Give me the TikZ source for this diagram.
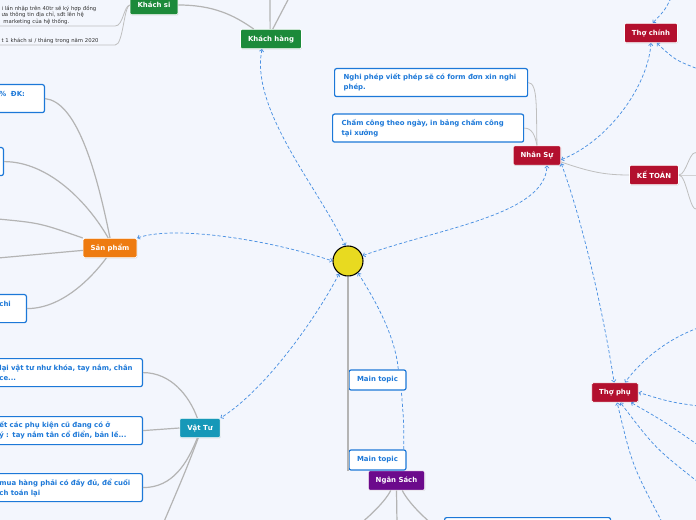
\documentclass[tikz,border=0pt]{standalone}
\usepackage{fontspec}
\newfontfamily\mapfont{DejaVu Sans}
\usetikzlibrary{arrows.meta,shadows}
\definecolor{bgblue}{RGB}{243,246,253}
\definecolor{hanggreen}{RGB}{28,138,58}
\definecolor{sporange}{RGB}{238,123,16}
\definecolor{vtteal}{RGB}{22,152,184}
\definecolor{nsred}{RGB}{179,16,46}
\definecolor{nspurple}{RGB}{108,10,140}
\definecolor{leafblue}{RGB}{28,120,216}
\definecolor{linkblue}{RGB}{74,144,226}
\definecolor{branchgray}{RGB}{180,180,180}
\definecolor{notegray}{RGB}{50,50,50}
\definecolor{sunyellow}{RGB}{232,218,32}
\tikzset{
  catbox/.style={rectangle, rounded corners=1pt, fill=#1, draw=white, line width=0.5pt,
    text=white, font=\mapfont\bfseries\fontsize{5.2}{6}\selectfont, inner xsep=5.6pt,
    minimum height=14.5pt, drop shadow={opacity=0.25,shadow xshift=0.4pt,shadow yshift=-0.6pt}},
  leafbox/.style={rectangle, rounded corners=1.5pt, fill=white, draw=leafblue, line width=0.9pt,
    text=leafblue, font=\mapfont\bfseries\fontsize{5.2}{7.5}\selectfont, align=left,
    text width=#1, inner xsep=6.75pt, minimum height=21pt},
  topicbox/.style={rectangle, rounded corners=1.5pt, fill=white, draw=leafblue, line width=0.9pt,
    text=leafblue, font=\mapfont\bfseries\fontsize{5.2}{6}\selectfont,
    minimum width=42.75pt, minimum height=15pt},
  note/.style={text=notegray, font=\mapfont\fontsize{4}{4.9}\selectfont, align=left,
    text width=#1, inner sep=1pt, anchor=south west},
  branch/.style={draw=branchgray, line width=0.9pt},
  twig/.style={draw=branchgray!85, line width=0.6pt},
  link/.style={draw=linkblue, line width=0.55pt, dash pattern=on 2.4pt off 1.6pt,
    >={Straight Barb[length=1.6pt,width=3.2pt]}},
}
\begin{document}
\begin{tikzpicture}[x=0.75pt,y=-0.75pt]
\fill[bgblue] (0,0) rectangle (696,520);
\useasboundingbox (0,0) rectangle (696,520);
\clip (0,0) rectangle (696,520);
% Ends outside the page
\coordinate (kh1) at (270,-4);
\coordinate (kh2) at (290,-4);
\coordinate (sp3) at (-2,219);
\coordinate (sp4) at (-2,258);
\coordinate (vt4) at (163,524);
\coordinate (ns1) at (360,524);
\coordinate (ns2) at (397,524);
\coordinate (ns3) at (432,524);
\coordinate (kt1) at (698,154);
\coordinate (kt2) at (698,175);
\coordinate (kt3) at (698,208);
\coordinate (tc1) at (671,-2);
\coordinate (tc2) at (698,69);
\coordinate (tp1) at (698,328);
\coordinate (tp2) at (698,406);
\coordinate (tp3) at (698,445);
\coordinate (tp4) at (698,482);
\coordinate (tp5) at (662,522);
% Centre
\node[circle, fill=sunyellow, draw=black, line width=0.8pt, minimum size=22.5pt, inner sep=0pt] (root) at (348,261) {};
% Main topics
\node[catbox=hanggreen] (khachhang) at (271,39) {Khách hàng};
\node[catbox=hanggreen] (khachsi) at (154,5) {Khách si};
\node[catbox=sporange] (sanpham) at (110,248) {Sản phẩm};
\node[catbox=vtteal] (vattu) at (200,428) {Vật Tư};
\node[catbox=nsred] (nhansu) at (537,155.5) {Nhân Sự};
\node[catbox=nsred] (thochinh) at (651,33) {Thợ chính};
\node[catbox=nsred] (ketoan) at (654,175) {KẾ TOÁN};
\node[catbox=nsred] (thophu) at (615,392.5) {Thợ phụ};
\node[catbox=nspurple] (ngansach) at (396.5,480.5) {Ngân Sách};
\node[topicbox] (topicA) at (377.5,380) {Main topic};
\node[topicbox] (topicB) at (377.5,460) {Main topic};
% Subtopics
\node[note=84pt] (ks1) at (0,26) {i lần nhập trên 40tr sẽ ký hợp đồng\\ưa thông tin địa chỉ, sđt lên hệ\\\ marketing của hệ thống.};
\node[note=84pt] (ks2) at (0,45) {t 1 khách si / tháng trong năm 2020};
\node[leafbox=27pt, anchor=north east] (spa) at (45,84) {\%~~ĐK:\\~};
\node[leafbox=10pt, anchor=north east] (spb) at (4,147) {~\\~};
\node[leafbox=13.5pt, anchor=north east] (spc) at (27,294) {chi\\~};
\node[leafbox=100.5pt, anchor=north east] (vt1) at (143,358) {lại vật tư như khóa, tay nắm, chân\\ce...};
\node[leafbox=100.5pt, anchor=north east] (vt2) at (143,416) {ết các phụ kiện cũ đang có ở\\ý : tay nắm tân cổ điển, bản lề...};
\node[leafbox=100.5pt, anchor=north east] (vt3) at (143,473) {mua hàng phải có đầy đủ, để cuối\\ch toán lại};
\node[leafbox=131.25pt, anchor=north west] (nghiphep) at (334,68) {Nghi phép viết phép sẽ có form đơn xin nghi\\phép.};
\node[leafbox=129.75pt, anchor=north west] (chamcong) at (332,113.5) {Chấm công theo ngày, in bảng chấm công\\tại xưởng};
\node[leafbox=111pt, anchor=north west] (nsbox) at (444,517) {~\\~};
% Branches
\draw[branch, line width=1.3pt] (root.south) -- (root.south |- topicA.west);
\draw[branch] (root.south |- topicA.west) -- (root.south |- topicB.south);
\draw[branch] (khachhang.95) -- (kh1);
\draw[branch] (khachhang.80) -- (kh2);
\draw[branch] (khachhang.150) .. controls +(-20,-14) and +(35,0) .. (khachsi.east);
\draw[twig] (ks1.south west) -- (ks1.south east) .. controls +(8,0) and +(-6,1) .. (khachsi.west);
\draw[twig] (ks2.south west) -- (ks2.south east) .. controls +(8,0) and +(-6,2) .. (khachsi.west);
\draw[branch] (spa.east) .. controls +(30,3) and +(-15,-75) .. (sanpham.north);
\draw[branch] (spb.east) .. controls +(45,0) and +(-20,-35) .. (sanpham.100);
\draw[branch] (sp3) .. controls (40,223) .. (sanpham.north west);
\draw[branch] (sp4) -- (sanpham.185);
\draw[branch] (spc.east) .. controls +(35,0) and +(-15,20) .. (sanpham.250);
\draw[branch] (vt1.east) .. controls +(28,0) and +(-8,-22) .. (vattu.105);
\draw[branch] (vt2.east) -- (vattu.west);
\draw[branch] (vt3.east) .. controls +(30,0) and +(-10,25) .. (vattu.255);
\draw[branch] (vattu.260) .. controls (186,470) .. (vt4);
\draw[twig] (nghiphep.east) .. controls +(10,0) and +(-1,-35) .. (nhansu.north);
\draw[twig] (chamcong.east) .. controls +(8,0) and +(-2,-10) .. (nhansu.north);
\draw[twig] (nhansu.-15) .. controls (590,172) and (605,175) .. (ketoan.west);
\foreach \c/\dy in {kt1/-8, kt2/0, kt3/8}
  \draw[twig] (ketoan.east) .. controls +(8,0) and +(-8,\dy) .. (\c);
\draw[branch] (ngansach.240) .. controls +(-5,10) and +(12,-10) .. (ns1);
\draw[branch] (ngansach.south) -- (ns2);
\draw[branch] (ngansach.300) .. controls +(5,10) and +(-12,-10) .. (ns3);
% Links
\draw[link,<->] (sanpham.north east) .. controls (175,225) and (270,240) .. (root.west);
\draw[link,<->] (root.235) .. controls (315,320) and (265,390) .. (vattu.north east);
\draw[link,<->] (khachhang.228) .. controls (250,110) and (320,190) .. (root.100);
\draw[link,<->] (root.20) .. controls (440,228) and (545,215) .. (nhansu.-45);
\draw[link,->] (topicA.27) .. controls (395,335) and (375,300) .. (root.-50);
\draw[link] (topicB.22) .. controls (404,425) .. (topicA.-24);
\draw[link,<->] (nhansu.-10) .. controls (610,140) and (648,85) .. (thochinh.south);
\draw[link,<->] (nhansu.-18) .. controls (582,220) and (603,310) .. (thophu.95);
\draw[link,->] (tc1) .. controls (665,10) .. (thochinh.80);
\draw[link,<-] (thochinh.-60) .. controls (675,60) .. (tc2);
\draw[link,->] (tp1) .. controls (665,340) and (640,362) .. (thophu.45);
\draw[link,->] (tp2) .. controls (670,402) .. (thophu.east);
\draw[link,->] (tp3) .. controls (665,422) .. (thophu.-32);
\draw[link,->] (tp4) .. controls (655,448) .. (thophu.-62);
\draw[link,->] (tp5) .. controls (632,465) .. (thophu.-78);
\end{tikzpicture}
\end{document}
